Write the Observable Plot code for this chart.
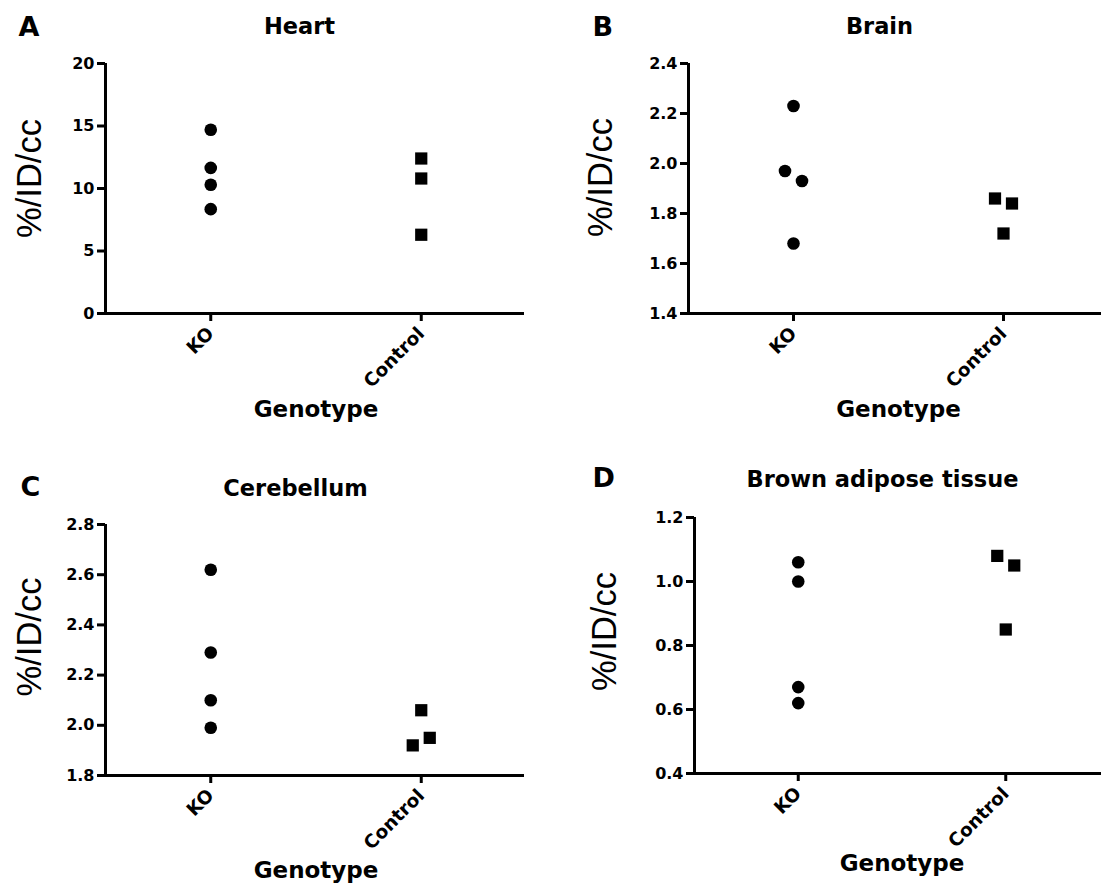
<!DOCTYPE html>
<html>
<head>
<meta charset="utf-8">
<script src="https://cdn.jsdelivr.net/npm/d3@7"></script>
<script src="https://cdn.jsdelivr.net/npm/@observablehq/plot@0.6"></script>
<style>
  body { margin: 0; background: #fff; }
  #wrap { position: relative; width: 1101px; height: 884px; overflow: hidden; background: #fff; }
  #wrap > svg { position: absolute; }
</style>
</head>
<body>
<div id="wrap"></div>
<script>
// ---- data ----
const groups = ["KO", "Control"];
const yLabel = "%/ID/cc";
const xLabel = "Genotype";

const heartKO = [14.7, 11.65, 10.3, 8.35];
const heartControl = [12.4, 10.8, 6.3];
const heartTicks = [0, 5, 10, 15, 20];

const brainKO = [2.23, 1.97, 1.93, 1.68];
const brainControl = [1.86, 1.84, 1.72];
const brainTicks = [1.4, 1.6, 1.8, 2.0, 2.2, 2.4];

const cerebKO = [2.62, 2.29, 2.10, 1.99];
const cerebControl = [2.06, 1.92, 1.95];
const cerebTicks = [1.8, 2.0, 2.2, 2.4, 2.6, 2.8];

const batKO = [1.06, 1.00, 0.67, 0.62];
const batControl = [1.08, 1.05, 0.85];
const batTicks = [0.4, 0.6, 0.8, 1.0, 1.2];

// ---- layout helpers ----
const SYM = 13;     // px symbol size used for overlap detection
const SPREAD = 17;  // px between side-by-side symbols
const LW = 3;       // axis line width

function withOffsets(values, g, span, plotH, step) {
  // GraphPad-style side-by-side spreading of overlapping points (in data order)
  const thr = span * SYM / plotH;
  const clusters = [];
  values.forEach((v, i) => {
    const c = clusters.find(cl => cl.some(j => Math.abs(values[j] - v) < thr));
    if (c) c.push(i); else clusters.push([i]);
  });
  const off = new Array(values.length).fill(0);
  for (const cl of clusters) {
    cl.forEach((idx, k) => { off[idx] = (k - (cl.length - 1) / 2) * SPREAD / step; });
  }
  return values.map((v, i) => ({g, v, x: g + off[i]}));
}

function panel(o) {
  const plotH = o.H - o.mt - o.mb;
  const span = o.ticks[o.ticks.length - 1] - o.ticks[0];
  const ko = withOffsets(o.ko, 0, span, plotH, o.step);
  const ct = withOffsets(o.control, 1, span, plotH, o.step);
  const xRight = (o.W - o.ml - o.mr) / o.step - 0.5;
  const svg = Plot.plot({
    width: o.W, height: o.H,
    marginTop: o.mt, marginBottom: o.mb, marginLeft: o.ml, marginRight: o.mr,
    style: {fontFamily: "DejaVu Sans", fontSize: "16px", fontWeight: "bold", color: "#000", background: "transparent"},
    x: {domain: [-0.5, xRight]},
    y: {domain: [o.ticks[0], o.ticks[o.ticks.length - 1]]},
    marks: [
      Plot.axisY({ticks: o.ticks, tickFormat: d3.format(o.fmt), tickSize: 8, tickPadding: 3, strokeWidth: LW, label: null, fontSize: 16, fontWeight: "bold"}),
      Plot.axisX({ticks: [0, 1], tickFormat: i => groups[i], tickRotate: -45, tickSize: 8, tickPadding: 9, strokeWidth: LW, label: null, fontSize: 18.5, fontWeight: "bold"}),
      Plot.ruleY([o.ticks[0]], {stroke: "#000", strokeWidth: LW}),
      Plot.ruleX([-0.5], {stroke: "#000", strokeWidth: LW}),
      Plot.dot(ko, {x: "x", y: "v", r: 6.3, symbol: "circle", fill: "#000", stroke: "none"}),
      Plot.dot(ct, {x: "x", y: "v", r: 6.9, symbol: "square", fill: "#000", stroke: "none"}),
      Plot.text([o.title], {text: d => d, frameAnchor: "top-left", dx: o.titleDx, dy: o.titleDy, textAnchor: "middle", lineAnchor: "bottom", fontSize: 22.5, fontWeight: "bold"}),
      Plot.text([o.letter], {text: d => d, frameAnchor: "top-left", dx: o.letterDx, dy: o.letterDy, textAnchor: "start", lineAnchor: "bottom", fontSize: 27, fontWeight: "bold"}),
      Plot.text([yLabel], {text: d => d, frameAnchor: "left", rotate: -90, dx: o.ylabDx, dy: o.ylabDy, textAnchor: "middle", lineAnchor: "middle", fontSize: 34.5, fontWeight: "normal", fontFamily: "Liberation Sans, Arial, sans-serif"}),
      Plot.text([xLabel], {text: d => d, x: 0.5, frameAnchor: "bottom", dy: o.genDy, lineAnchor: "bottom", fontSize: 23, fontWeight: "bold"})
    ]
  });
  svg.style.left = o.left + "px";
  svg.style.top = o.top + "px";
  document.getElementById("wrap").appendChild(svg);
}

panel({left: 0, top: 0, W: 550, H: 440, mt: 63, mb: 127, ml: 105, mr: 26, step: 210.5,
  ko: heartKO, control: heartControl, ticks: heartTicks, fmt: "d",
  title: "Heart", letter: "A", titleDx: 194, titleDy: -30, letterDx: -87, letterDy: -28,
  ylabDx: -76, ylabDy: -10, genDy: 103});

panel({left: 550, top: 0, W: 551, H: 440, mt: 63, mb: 127, ml: 138, mr: 0, step: 210,
  ko: brainKO, control: brainControl, ticks: brainTicks, fmt: ".1f",
  title: "Brain", letter: "B", titleDx: 191, titleDy: -30, letterDx: -96, letterDy: -28,
  ylabDx: -88, ylabDy: -11, genDy: 103});

panel({left: 0, top: 440, W: 550, H: 444, mt: 84, mb: 109, ml: 105, mr: 26, step: 210.5,
  ko: cerebKO, control: cerebControl, ticks: cerebTicks, fmt: ".1f",
  title: "Cerebellum", letter: "C", titleDx: 190, titleDy: -29, letterDx: -85, letterDy: -29,
  ylabDx: -76, ylabDy: -13, genDy: 102});

panel({left: 550, top: 440, W: 551, H: 444, mt: 77, mb: 111, ml: 144, mr: 0, step: 207.5,
  ko: batKO, control: batControl, ticks: batTicks, fmt: ".1f",
  title: "Brown adipose tissue", letter: "D", titleDx: 188, titleDy: -31, letterDx: -102, letterDy: -31,
  ylabDx: -90, ylabDy: -14, genDy: 97});
</script>
</body>
</html>
